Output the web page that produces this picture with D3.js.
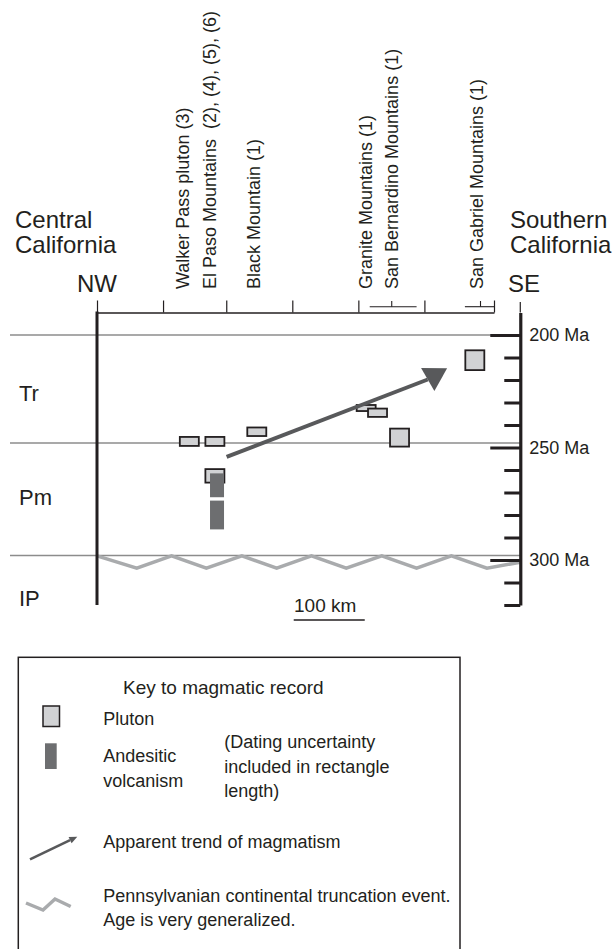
<!DOCTYPE html>
<html>
<head>
<meta charset="utf-8">
<script src="https://cdn.jsdelivr.net/npm/d3@7"></script>
<style>
	body { margin: 0; background: #fff; }
	text { font-family: "Liberation Sans", Arial, Helvetica, sans-serif; fill: #231f20; }
</style>
</head>
<body>
<div id="chart"></div>
<script>
// localities along the NW-SE section (km from the NW end)
var localityNames = ["Walker Pass pluton (3)", "El Paso Mountains  (2), (4), (5), (6)", "Black Mountain (1)",
	"Granite Mountains (1)", "San Bernardino Mountains (1)", "San Gabriel Mountains (1)"];
var localityKm = [121, 159, 221, 379, 415, 534];
var topTicksKm = [0, 93, 182, 275, 368, 461, 559];
// bracket marks under two labels [from, to, centre]
var bracketKm = [[384, 450, 415], [518, 559, 540]];

// plutons: km position, age top, age bottom (Ma)
var plutonKm = [130, 166, 225, 379, 395, 426, 532, 166];
var plutonTop = [245.3, 245.3, 241.1, 231.1, 232.7, 241.6, 206.8, 259.6];
var plutonBottom = [249.3, 249.3, 244.9, 233.8, 236.4, 249.6, 215.6, 265.6];

// andesitic volcanism
var volcKm = [169, 169];
var volcTop = [261.5, 273.6];
var volcBottom = [272.1, 286.4];

// apparent trend of magmatism [km, Ma]
var trendStart = [182.5, 254.2];
var trendEnd = [493, 214.8];

// period boundaries and labels
var boundaryAges = [200, 248, 298];
var periodNames = ["Tr", "Pm", "IP"];
var periodAges = [226, 272, 317];

// age axis
var ageTicks = d3.range(200, 321, 10);
var ageLabels = [200, 250, 300];

// truncation zigzag
var zigKm = [0, 56, 105, 154, 204, 253, 302, 351, 401, 450, 499, 549, 596];
var zigAge = [298.2, 303.6, 298.2, 303.6, 298.2, 303.6, 298.2, 303.6, 298.2, 303.6, 298.2, 303.6, 301];

var rightKm = 596;
var ink = "#231f20";

var svg = d3.select("#chart").append("svg")
	.attr("width", 616)
	.attr("height", 949);

var x = d3.scaleLinear().domain([0, 559]).range([97, 494]);
var y = d3.scaleLinear().domain([190, 320]).range([312.5, 605]);

// period boundary lines
svg.append("g").selectAll("line")
	.data(boundaryAges)
	.enter().append("line")
	.attr("x1", 10).attr("x2", x(rightKm))
	.attr("y1", function (d) { return y(d); })
	.attr("y2", function (d) { return y(d); })
	.attr("stroke", "#8c8c8c").attr("stroke-width", 1.6);

// zigzag
var zig = d3.line()
	.x(function (d, i) { return x(zigKm[i]); })
	.y(function (d) { return y(d); });
svg.append("path")
	.attr("d", zig(zigAge))
	.attr("fill", "none").attr("stroke", "#a9abad").attr("stroke-width", 3.5)
	.attr("stroke-linejoin", "miter");

// top axis
var topAxis = svg.append("g")
	.attr("transform", "translate(0," + y(190) + ")")
	.call(d3.axisTop(x).tickValues(topTicksKm).tickSize(12).tickSizeOuter(0).tickFormat(""));
topAxis.select(".domain").attr("stroke", ink).attr("stroke-width", 1.4);
topAxis.selectAll(".tick line").attr("stroke", ink).attr("stroke-width", 1.2);

// brackets
bracketKm.forEach(function (b) {
	svg.append("line").attr("x1", x(b[0])).attr("x2", x(b[1]))
		.attr("y1", 306.7).attr("y2", 306.7).attr("stroke", ink).attr("stroke-width", 1.1);
	svg.append("line").attr("x1", x(b[2])).attr("x2", x(b[2]))
		.attr("y1", 301).attr("y2", 306.7).attr("stroke", ink).attr("stroke-width", 1.1);
});

// left axis
svg.append("line")
	.attr("x1", x(0)).attr("x2", x(0))
	.attr("y1", y(190) - 1).attr("y2", y(320))
	.attr("stroke", ink).attr("stroke-width", 3);

// right age axis
var rightAxis = svg.append("g")
	.attr("transform", "translate(" + x(rightKm) + ",0)")
	.call(d3.axisRight(y).tickValues(ageTicks).tickSize(-16).tickSizeOuter(0).tickPadding(9)
		.tickFormat(function (d) { return ageLabels.indexOf(d) >= 0 ? d + " Ma" : ""; }));
rightAxis.select(".domain").attr("stroke", ink).attr("stroke-width", 3.2);
rightAxis.selectAll(".tick line")
	.attr("stroke", ink).attr("stroke-width", 3)
	.attr("x2", function (d) { return ageLabels.indexOf(d) >= 0 ? -30 : -16; });
rightAxis.selectAll(".tick text")
	.style("font-size", "18px").style("font-family", "Liberation Sans, Arial, sans-serif").attr("fill", ink);
svg.append("line")
	.attr("x1", x(rightKm)).attr("x2", x(rightKm))
	.attr("y1", 302).attr("y2", y(190))
	.attr("stroke", ink).attr("stroke-width", 1.2);

// plutons
var boxW = 19;
svg.append("g").selectAll("rect")
	.data(plutonKm)
	.enter().append("rect")
	.attr("x", function (d) { return x(d) - boxW / 2; })
	.attr("y", function (d, i) { return y(plutonTop[i]); })
	.attr("width", boxW)
	.attr("height", function (d, i) { return y(plutonBottom[i]) - y(plutonTop[i]); })
	.attr("fill", "#d1d2d4").attr("stroke", ink).attr("stroke-width", 1.8);

// volcanics
var barW = 14;
svg.append("g").selectAll("rect")
	.data(volcKm)
	.enter().append("rect")
	.attr("x", function (d) { return x(d) - barW / 2; })
	.attr("y", function (d, i) { return y(volcTop[i]); })
	.attr("width", barW)
	.attr("height", function (d, i) { return y(volcBottom[i]) - y(volcTop[i]); })
	.attr("fill", "#6d6e70");

// trend arrow
function arrow(g, x0, y0, x1, y1, ang, len, half, w, col) {
	var ux = Math.cos(ang), uy = Math.sin(ang);
	var bx = x1 - len * ux, by = y1 - len * uy;
	g.append("line").attr("x1", x0).attr("y1", y0).attr("x2", bx).attr("y2", by)
		.attr("stroke", col).attr("stroke-width", w);
	g.append("path")
		.attr("d", "M" + x1 + "," + y1 + "L" + (bx - half * uy) + "," + (by + half * ux) +
			"L" + (bx + half * uy) + "," + (by - half * ux) + "Z")
		.attr("fill", col);
}
arrow(svg, x(trendStart[0]), y(trendStart[1]), x(trendEnd[0]), y(trendEnd[1]),
	-Math.PI / 6, 22.4, 13.3, 4, "#58595b");

// top labels
svg.append("g").selectAll("text")
	.data(localityNames)
	.enter().append("text")
	.attr("transform", function (d, i) { return "translate(" + x(localityKm[i]) + ",289) rotate(-90)"; })
	.attr("dy", "0.35em")
	.style("font-size", "18px")
	.style("white-space", "pre")
	.text(function (d) { return d; });

// region labels
function label(txt, px, py, size, anchor) {
	svg.append("text").attr("x", px).attr("y", py)
		.attr("text-anchor", anchor || "start")
		.style("font-size", size + "px").text(txt);
}
label("Central", 15, 228, 24);
label("California", 15, 253, 24);
label("NW", 77, 292, 24);
label("Southern", 510, 228, 24);
label("California", 510, 253, 24);
label("SE", 508, 292, 24);

// period labels
svg.append("g").selectAll("text")
	.data(periodNames)
	.enter().append("text")
	.attr("x", 19)
	.attr("y", function (d, i) { return y(periodAges[i]); })
	.attr("dy", "0.35em")
	.style("font-size", "22px")
	.text(function (d) { return d; });

// scale bar
svg.append("line").attr("x1", x(277)).attr("x2", x(377))
	.attr("y1", 620).attr("y2", 620).attr("stroke", ink).attr("stroke-width", 1.3);
label("100 km", 294, 612, 19);

// legend
var leg = svg.append("g");
leg.append("rect").attr("x", 18.3).attr("y", 657.3).attr("width", 441.7).attr("height", 310)
	.attr("fill", "none").attr("stroke", ink).attr("stroke-width", 1.5);
leg.append("text").attr("x", 123).attr("y", 694).style("font-size", "19px").text("Key to magmatic record");
leg.append("rect").attr("x", 43).attr("y", 706).attr("width", 16.5).attr("height", 20.5)
	.attr("fill", "#d1d2d4").attr("stroke", ink).attr("stroke-width", 1.5);
leg.append("rect").attr("x", 45).attr("y", 743.3).attr("width", 11.7).attr("height", 25.7)
	.attr("fill", "#6d6e70");
arrow(leg, 30, 859.3, 77.3, 836.7, Math.atan2(836.7 - 859.3, 77.3 - 30), 8, 3.5, 2.6, "#58595b");
leg.append("path").attr("d", "M26,903L43,910L55,899L70.7,906.5")
	.attr("fill", "none").attr("stroke", "#a9abad").attr("stroke-width", 3.5);

var legendLines = [
	["Pluton", 103.3, 725],
	["Andesitic", 103.3, 761.7],
	["volcanism", 103.3, 786.7],
	["(Dating uncertainty", 224.3, 748.3],
	["included in rectangle", 224.3, 773],
	["length)", 224.3, 797],
	["Apparent trend of magmatism", 103.3, 848.3],
	["Pennsylvanian continental truncation event.", 103.3, 901.7],
	["Age is very generalized.", 103.3, 926]
];
leg.selectAll("text.item")
	.data(legendLines)
	.enter().append("text")
	.attr("class", "item")
	.attr("x", function (d) { return d[1]; })
	.attr("y", function (d) { return d[2]; })
	.style("font-size", "18px")
	.text(function (d) { return d[0]; });
</script>
</body>
</html>
